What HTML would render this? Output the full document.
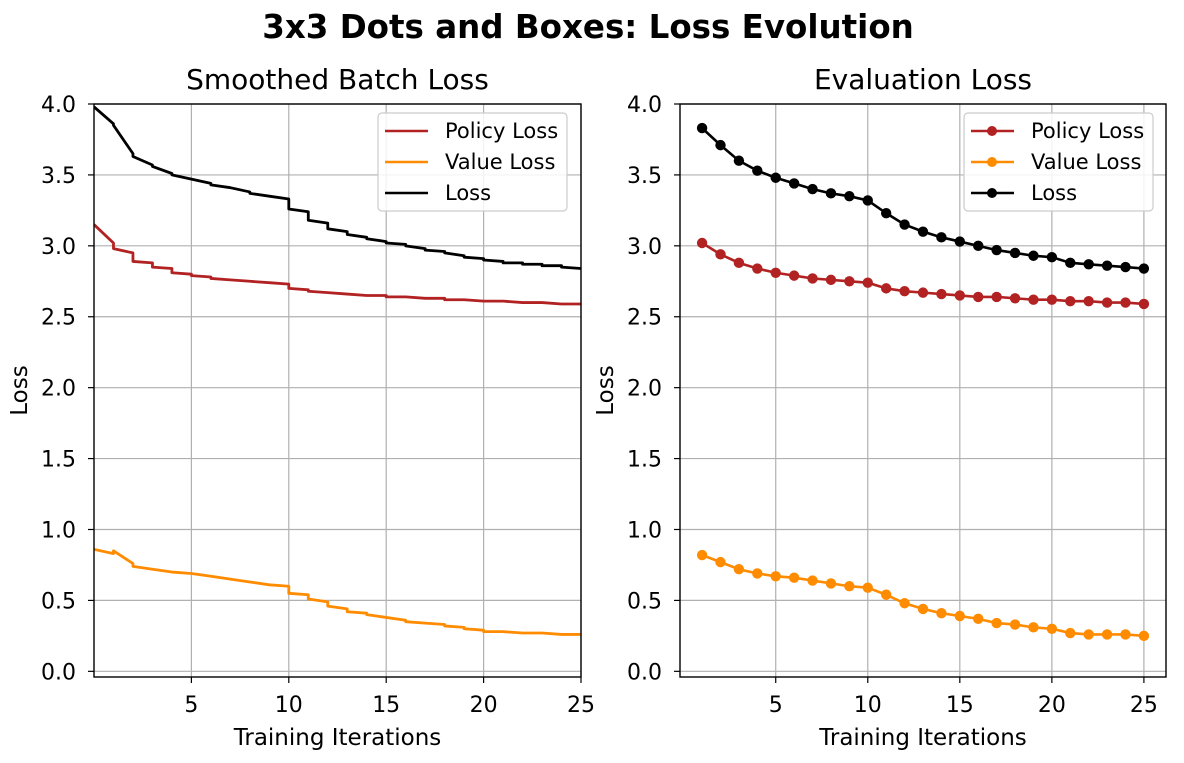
<!DOCTYPE html>
<html><head><meta charset="utf-8"><style>
body{margin:0;background:#fff}
svg{display:block;font-family:"DejaVu Sans","Liberation Sans",sans-serif}
</style></head><body>
<svg id="fig" width="1184" height="763" xmlns="http://www.w3.org/2000/svg">
<text x="588" y="38" text-anchor="middle" font-size="32.5" font-weight="bold">3x3 Dots and Boxes: Loss Evolution</text>
</svg>
<script>
const iterStarts = [0,1,2,3,4,5,6,7,8,9,10,11,12,13,14,15,16,17,18,19,20,21,22,23,24];
const smLossStart = [3.98,3.85,3.63,3.56,3.50,3.47,3.43,3.41,3.37,3.35,3.26,3.18,3.12,3.08,3.05,3.02,3.00,2.97,2.95,2.92,2.90,2.88,2.87,2.86,2.85];
const smLossEnd   = [3.86,3.65,3.57,3.51,3.47,3.44,3.41,3.38,3.35,3.33,3.24,3.16,3.10,3.06,3.03,3.01,2.98,2.96,2.93,2.91,2.89,2.88,2.87,2.86,2.84];
const smPolicyStart = [3.15,2.98,2.89,2.85,2.81,2.79,2.77,2.76,2.75,2.74,2.70,2.68,2.67,2.66,2.65,2.64,2.64,2.63,2.62,2.62,2.61,2.61,2.60,2.60,2.59];
const smPolicyEnd   = [3.02,2.95,2.88,2.84,2.80,2.78,2.76,2.75,2.74,2.73,2.69,2.67,2.66,2.65,2.65,2.64,2.63,2.63,2.62,2.61,2.61,2.60,2.60,2.59,2.59];
const smValueStart = [0.86,0.85,0.74,0.72,0.70,0.69,0.67,0.65,0.63,0.61,0.55,0.51,0.46,0.42,0.40,0.38,0.35,0.34,0.32,0.30,0.28,0.28,0.27,0.27,0.26];
const smValueEnd   = [0.83,0.76,0.72,0.70,0.69,0.67,0.65,0.63,0.61,0.60,0.54,0.49,0.44,0.41,0.38,0.36,0.34,0.33,0.31,0.29,0.28,0.27,0.27,0.26,0.26];
const evalIters = [1,2,3,4,5,6,7,8,9,10,11,12,13,14,15,16,17,18,19,20,21,22,23,24,25];
const evalLoss = [3.83,3.71,3.60,3.53,3.48,3.44,3.40,3.37,3.35,3.32,3.23,3.15,3.10,3.06,3.03,3.00,2.97,2.95,2.93,2.92,2.88,2.87,2.86,2.85,2.84];
const evalPolicy = [3.02,2.94,2.88,2.84,2.81,2.79,2.77,2.76,2.75,2.74,2.70,2.68,2.67,2.66,2.65,2.64,2.64,2.63,2.62,2.62,2.61,2.61,2.60,2.60,2.59];
const evalValue = [0.82,0.77,0.72,0.69,0.67,0.66,0.64,0.62,0.60,0.59,0.54,0.48,0.44,0.41,0.39,0.37,0.34,0.33,0.31,0.30,0.27,0.26,0.26,0.26,0.25];
const xTicks = [5,10,15,20,25];
const yTicks = [0,0.5,1,1.5,2,2.5,3,3.5,4];
const yTickLabels = ["0.0","0.5","1.0","1.5","2.0","2.5","3.0","3.5","4.0"];
const legendLabels = ["Policy Loss","Value Loss","Loss"];

const NS="http://www.w3.org/2000/svg";
const svg=document.getElementById('fig');
const C={p:"#b22222",v:"#ff8c00",l:"#000000"};
function mk(tag,attrs,parent){const e=document.createElementNS(NS,tag);for(const k in attrs)e.setAttribute(k,attrs[k]);(parent||svg).appendChild(e);return e;}

function makeAxes(left,right,xmin,xmax,name,title){
  const top=104,bottom=677,ymin=-0.04,ymax=4.0;
  const X=v=>left+(v-xmin)/(xmax-xmin)*(right-left);
  const Y=v=>bottom-(v-ymin)/(ymax-ymin)*(bottom-top);
  const g=mk('g',{});
  
  
  const t=mk('text',{x:(left+right)/2,y:89,'text-anchor':'middle','font-size':28},g);
  
  
  t.textContent=title;
  xTicks.forEach(v=>{
    const gl=mk('line',{x1:X(v),x2:X(v),y1:top,y2:bottom,stroke:'#b0b0b0','stroke-width':1.2},g);
    
    
    mk('line',{x1:X(v),x2:X(v),y1:bottom,y2:bottom+6,stroke:'#000','stroke-width':1.2},g);
    const tl=mk('text',{x:X(v),y:bottom+35,'text-anchor':'middle','font-size':22},g);
    
    
    tl.textContent=v;
  });
  yTicks.forEach((v,i)=>{
    const gl=mk('line',{x1:left,x2:right,y1:Y(v),y2:Y(v),stroke:'#b0b0b0','stroke-width':1.2},g);
    
    
    mk('line',{x1:left-6,x2:left,y1:Y(v),y2:Y(v),stroke:'#000','stroke-width':1.2},g);
    const tl=mk('text',{x:left-18,y:Y(v)+8,'text-anchor':'end','font-size':22},g);
    
    
    tl.textContent=yTickLabels[i];
  });
  const xl=mk('text',{x:(left+right)/2,y:745,'text-anchor':'middle','font-size':23},g);
  
  
  xl.textContent='Training Iterations';
  const yx=left-67, yy=(top+bottom)/2;
  const yl=mk('text',{x:yx,y:yy,'text-anchor':'middle','font-size':23,transform:`rotate(-90 ${yx} ${yy})`},g);
  
  
  yl.textContent='Loss';
  return {X,Y,g,left,right,top,bottom};
}

function frame(ax){
  const f=mk('rect',{x:ax.left,y:ax.top,width:ax.right-ax.left,height:ax.bottom-ax.top,fill:'none',stroke:'#000','stroke-width':1.4},ax.g);
  
  
}

function legend(ax,x,markers){
  const g=mk('g',{},ax.g);
  
  
  mk('rect',{x:x,y:113,width:189,height:98,rx:4,fill:'#fff','fill-opacity':0.85,stroke:'#cccccc','stroke-width':1.2},g);
  const cols=[C.p,C.v,C.l];
  legendLabels.forEach((lab,i)=>{
    const y=131+i*31;
    const e=mk('g',{},g);
    
    
    mk('line',{x1:x+7,x2:x+50,y1:y,y2:y,stroke:cols[i],'stroke-width':2.6},e);
    if(markers) mk('circle',{cx:x+28,cy:y,r:5,fill:cols[i]},e);
    const t=mk('text',{x:x+67,y:y+7,'font-size':21},e);
    t.textContent=lab;
  });
}

// Left
const A=makeAxes(94,581,0,25,'smoothed-batch-loss-plot','Smoothed Batch Loss');
const clipL=mk('clipPath',{id:'cl'});mk('rect',{x:94,y:104,width:487,height:573},clipL);
function stepLine(ax,starts,ends,col,name){
  let d='';
  iterStarts.forEach((s,i)=>{
    d+=(i?'L':'M')+ax.X(s)+' '+ax.Y(starts[i])+' L'+ax.X(s+1)+' '+ax.Y(ends[i])+' ';
  });
  const p=mk('path',{d:d,fill:'none',stroke:col,'stroke-width':2.8,'clip-path':'url(#cl)','stroke-linejoin':'round'},ax.g);
  
  
}
stepLine(A,smPolicyStart,smPolicyEnd,C.p,'policy-loss-line');
stepLine(A,smValueStart,smValueEnd,C.v,'value-loss-line');
stepLine(A,smLossStart,smLossEnd,C.l,'loss-line');
frame(A);
legend(A,378,false);

// Right
const B=makeAxes(680,1166,-0.2,26.2,'evaluation-loss-plot','Evaluation Loss');
function markLine(ax,vals,col,name){
  const g=mk('g',{},ax.g);
  
  
  mk('polyline',{points:evalIters.map((x,i)=>ax.X(x)+','+ax.Y(vals[i])).join(' '),fill:'none',stroke:col,'stroke-width':2.6},g);
  evalIters.forEach((x,i)=>{
    const c=mk('circle',{cx:ax.X(x),cy:ax.Y(vals[i]),r:5.2,fill:col},g);
    
    
  });
}
markLine(B,evalPolicy,C.p,'eval-policy-loss-series');
markLine(B,evalValue,C.v,'eval-value-loss-series');
markLine(B,evalLoss,C.l,'eval-loss-series');
frame(B);
legend(B,964,true);
</script>
</body></html>
